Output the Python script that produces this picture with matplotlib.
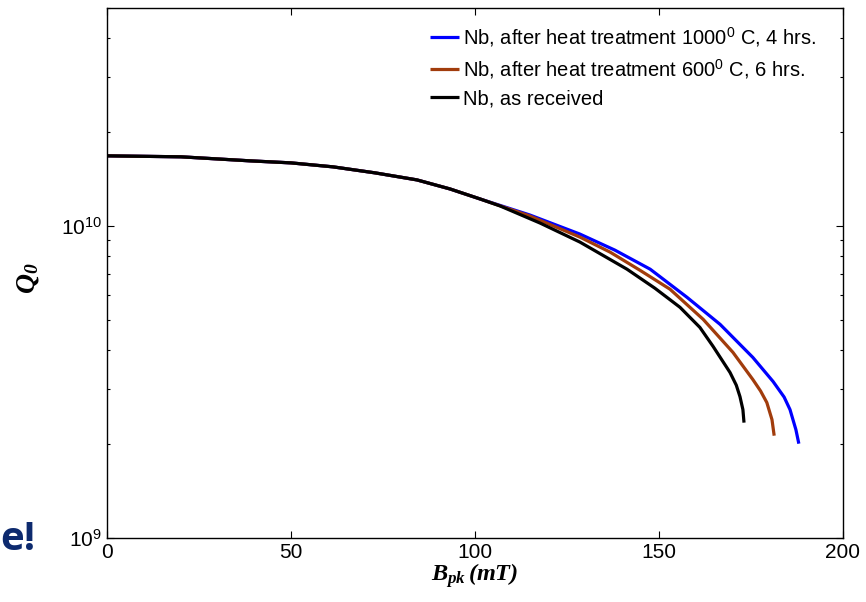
import math
import matplotlib; matplotlib.use("Agg")
import matplotlib.pyplot as plt
from matplotlib.ticker import FixedLocator, FuncFormatter, NullFormatter

plt.rcParams["font.family"] = ["Liberation Sans", "DejaVu Sans"]
plt.rcParams["mathtext.fontset"] = "custom"
plt.rcParams["mathtext.it"] = "Liberation Serif:bold:italic"
plt.rcParams["mathtext.rm"] = "Liberation Serif:bold:italic"
plt.rcParams["mathtext.bf"] = "Liberation Serif:bold:italic"
plt.rcParams["mathtext.sf"] = "Liberation Sans"

# B_pk (mT) vs Q0
b_common = [0, 20.1, 38.9, 50.0, 61.4, 72.8, 84.2, 93.2, 101.4]
q_common = [1.679e10, 1.667e10, 1.618e10, 1.594e10, 1.548e10, 1.481e10, 1.406e10, 1.315e10, 1.221e10]

b_1000 = b_common + [114.9, 128.5, 138.0, 147.6, 157.6, 166.6, 175.5, 181.0, 184.0, 185.6, 187.2, 188.0]
q_1000 = q_common + [1.085e10, 9.425e9, 8.373e9, 7.273e9, 5.911e9, 4.840e9, 3.792e9, 3.174e9,
                     2.830e9, 2.580e9, 2.225e9, 2.006e9]
b_600 = b_common + [114.9, 128.5, 136.7, 144.8, 153.0, 162.0, 170.1, 175.5, 177.6, 179.3, 180.7, 181.3]
q_600 = q_common + [1.077e10, 9.218e9, 8.250e9, 7.219e9, 6.272e9, 5.023e9, 3.935e9, 3.221e9,
                    2.960e9, 2.718e9, 2.396e9, 2.128e9]
b_raw = b_common + [106.8, 117.7, 128.5, 141.3, 148.9, 155.7, 161.1, 164.7, 169.3, 171.0, 172.0, 172.8, 173.1]
q_raw = q_common + [1.160e10, 1.022e10, 8.885e9, 7.273e9, 6.318e9, 5.490e9, 4.734e9, 4.113e9,
                    3.393e9, 3.090e9, 2.840e9, 2.580e9, 2.343e9]

labels = [r"Nb, after heat treatment 1000$^{\mathsf{0}}$ C, 4 hrs.",
          r"Nb, after heat treatment 600$^{\mathsf{0}}$ C, 6 hrs.",
          "Nb, as received"]
colors = ["#0000ff", "#a13c0c", "#000000"]

fig = plt.figure(figsize=(8.66, 6.02), dpi=100)
ax = fig.add_axes([107/866, 1-538/602, 736/866, 530/602])

for b, q, lab, c in zip([b_1000, b_600, b_raw], [q_1000, q_600, q_raw], labels, colors):
    ax.plot(b, q, color=c, lw=2.3, label=lab, solid_capstyle="butt", solid_joinstyle="round")

ax.set_yscale("log")
ax.set_xlim(0, 200)
ax.set_ylim(1e9, 5e10)
ax.set_xticks([0, 50, 100, 150, 200])
ax.yaxis.set_major_locator(FixedLocator([1e9, 1e10]))
ax.yaxis.set_major_formatter(FuncFormatter(lambda v, p: r"$\mathsf{10}^{\mathsf{%d}}$" % round(math.log10(v))))
ax.yaxis.set_minor_formatter(NullFormatter())
ax.tick_params(which="both", direction="in", top=True, right=True, labelsize=15, width=0.8)
ax.tick_params(which="major", length=5)
ax.tick_params(which="minor", length=2.5)
for s in ax.spines.values():
    s.set_linewidth(1.0)

ax.set_xlabel(r"$B_{pk}\,(mT)$", fontsize=17.5)
ax.xaxis.set_label_coords(0.5, -0.043)
ax.set_ylabel(r"$Q_0$", fontsize=20)
ax.yaxis.set_label_coords(-0.09, 0.49)

ax.legend(loc="upper left", bbox_to_anchor=(430/866, 1-26/602), bbox_transform=fig.transFigure,
          frameon=False, fontsize=14.5, handlelength=1.45, handletextpad=0.2, labelspacing=0.42,
          borderpad=0, borderaxespad=0)

fig.text(36/866, 1-550/602, "e!", ha="right", va="baseline", fontsize=29, fontweight="bold",
         color="#0d2a6e", family=["Open Sans", "DejaVu Sans"])

fig.savefig("out.png", dpi=100)
